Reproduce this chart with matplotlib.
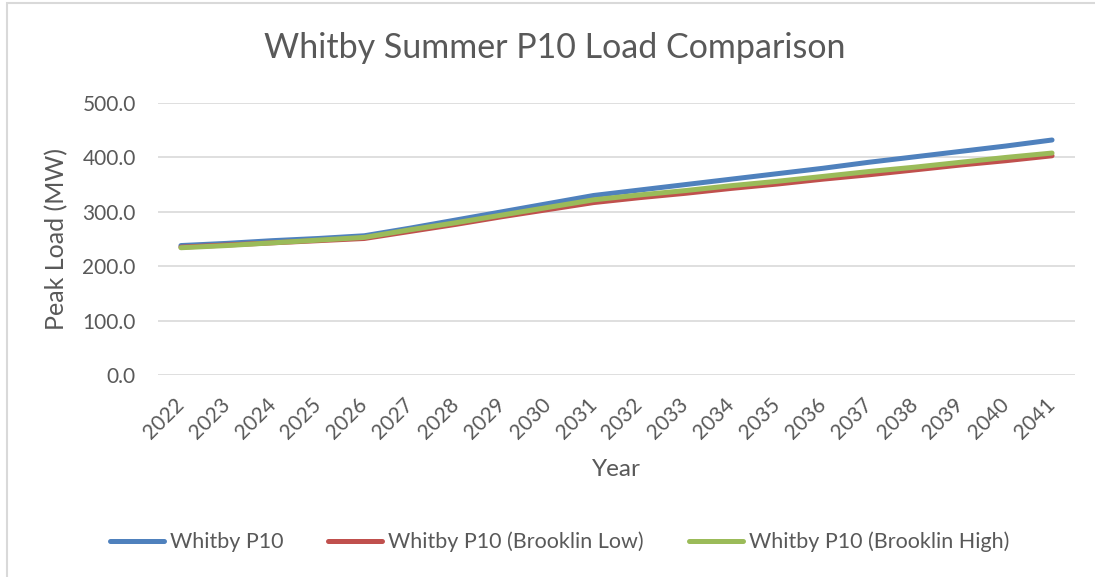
import matplotlib
matplotlib.use('Agg')
import matplotlib.pyplot as plt
import matplotlib.patches as patches
from matplotlib.ticker import FormatStrFormatter

plt.rcParams['font.family'] = ['Lato', 'DejaVu Sans']

years = [str(y) for y in range(2022, 2042)]
whitby_p10 = [238, 242, 247, 251, 256, 270, 285, 300, 315, 330,
              340, 350, 360, 370, 380, 391, 401, 411, 421, 432]
brooklin_low = [235, 239, 243, 247, 251, 264, 277, 291, 304, 317,
                326, 334, 343, 351, 360, 368, 377, 386, 394, 403]
brooklin_high = [234, 238, 243, 248, 253, 267, 280, 294, 308, 322,
                 331, 339, 348, 356, 365, 374, 382, 391, 400, 408]

text_col = '#595959'
grid_col = '#D9D9D9'

fig = plt.figure(figsize=(10.95, 5.77), dpi=100)
ax = fig.add_axes([0.1443, 0.350, 0.8374, 0.4715])

x = range(len(years))
ax.plot(x, whitby_p10, color='#4F81BD', lw=3.6, solid_capstyle='round', label='Whitby P10')
ax.plot(x, brooklin_low, color='#C0504D', lw=3.6, solid_capstyle='round', label='Whitby P10 (Brooklin Low)')
ax.plot(x, brooklin_high, color='#9BBB59', lw=3.6, solid_capstyle='round', label='Whitby P10 (Brooklin High)')

ax.set_xlim(-0.5, len(years) - 0.5)
ax.set_ylim(0, 500)
ax.set_yticks(range(0, 501, 100))
ax.yaxis.set_major_formatter(FormatStrFormatter('%.1f'))
ax.set_xticks(list(x))
ax.set_xticklabels(years, rotation=45, ha='right', va='center', rotation_mode='anchor')
ax.grid(axis='y', color=grid_col, lw=1.2)
ax.set_axisbelow(True)
for s in ax.spines.values():
    s.set_visible(False)
ax.tick_params(length=0, colors=text_col, labelsize=15)
ax.tick_params(axis='y', pad=16)
ax.tick_params(axis='x', pad=19)

ax.set_ylabel('Peak Load (MW)', fontsize=18, color=text_col, va='center', ha='center')
ax.yaxis.set_label_coords(-0.110, 0.5)
ax.set_xlabel('Year', fontsize=17.5, color=text_col, va='center', ha='center')
ax.xaxis.set_label_coords(0.5, -0.349)
fig.text(0.507, 0.917, 'Whitby Summer P10 Load Comparison', fontsize=24.5,
         color=text_col, ha='center', va='center')

fig.legend(loc='center', bbox_to_anchor=(0.511, 0.0607), ncol=3, frameon=False,
           fontsize=15.5, labelcolor=text_col, handlelength=2.5, handletextpad=0.28,
           columnspacing=2.1)

# chart area outline
fig.patches.append(patches.Rectangle((7 / 1095, -0.1), 1.2, 1 - 3 / 577 + 0.1,
                                     transform=fig.transFigure, fill=False,
                                     edgecolor='#D9D9D9', lw=1.5))

fig.savefig('out.png', dpi=100)
